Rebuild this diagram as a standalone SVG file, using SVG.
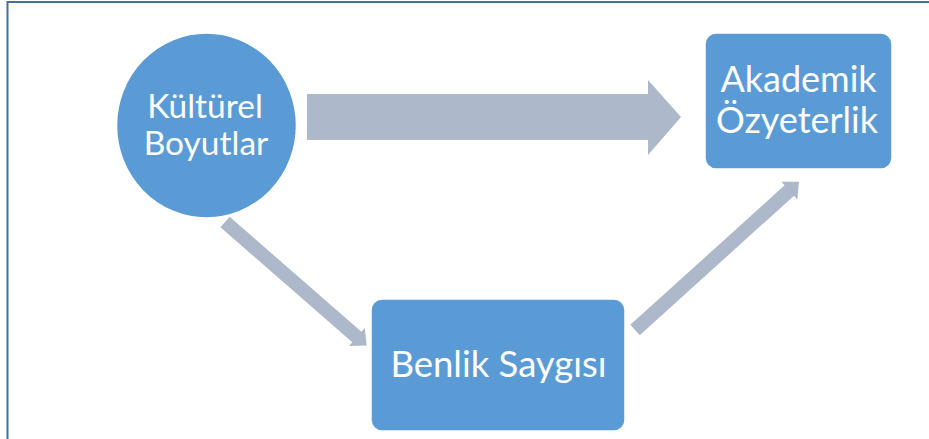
<svg xmlns="http://www.w3.org/2000/svg" width="929" height="439" viewBox="0 0 929 439">
<style>
.node{fill:#5B9BD5;stroke:#FFFFFF;stroke-width:1.5}
.lbl{fill:#FFFFFF;font-family:Lato,"Open Sans","Liberation Sans",sans-serif;text-anchor:middle}
.arr{fill:#ADB9CA}
</style>
<rect x="0" y="0" width="929" height="439" fill="#FFFFFF"/>
<path d="M7.5 439 V2 H929" fill="none" stroke="#41719C" stroke-width="2"/>
<g id="connectors">
<polygon class="arr" points="307,94 648,94 648,80 681,117 648,155 648,140 307,140"/>
<polygon class="arr" transform="translate(225,222) rotate(41.1)" points="0,-7 175,-7 175,-12 188,0 175,12 175,7 0,7"/>
<polygon class="arr" transform="translate(635,330) rotate(-42.1)" points="0,-7 208,-7 208,-12 221,0 208,12 208,7 0,7"/>
</g>
<g id="kulturel">
<ellipse class="node" cx="206.5" cy="125.5" rx="90" ry="92.5"/>
<text class="lbl" x="205" y="118" font-size="33.5">Kültürel</text>
<text class="lbl" x="206" y="155" font-size="33.5">Boyutlar</text>
</g>
<g id="akademik">
<rect class="node" x="705" y="33" width="187" height="136" rx="11"/>
<text class="lbl" x="798.5" y="92" font-size="36">Akademik</text>
<text class="lbl" x="797" y="133" font-size="36">Özyeterlik</text>
</g>
<g id="benlik">
<rect class="node" x="371" y="299" width="254" height="132" rx="11"/>
<text class="lbl" x="498.5" y="377" font-size="36.5">Benlik Saygısı</text>
</g>
</svg>
